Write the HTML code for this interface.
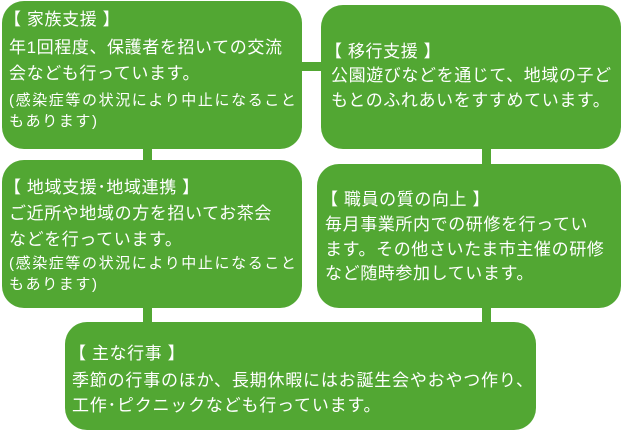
<!DOCTYPE html>
<html><head><meta charset="utf-8"><style>
body{margin:0;width:622px;height:434px;background:#fff;position:relative;overflow:hidden;font-family:"Liberation Sans","Noto Sans CJK JP",sans-serif;color:#fff}
.b{position:absolute;background:#52a733;border-radius:22px}
.l{position:absolute;background:#52a733}
.t{position:absolute;white-space:nowrap;font-size:17px;letter-spacing:0.6px;line-height:20px}
.s{font-size:15px;letter-spacing:1.6px}
.w{letter-spacing:0.8px}
</style></head><body>
<div class="l" style="left:296px;top:62px;width:30px;height:9px"></div>
<div class="l" style="left:143px;top:140px;width:9px;height:30px"></div>
<div class="l" style="left:482px;top:140px;width:9px;height:30px"></div>
<div class="l" style="left:143px;top:300px;width:9px;height:30px"></div>
<div class="l" style="left:482px;top:300px;width:9px;height:30px"></div>
<div class="b" style="left:2px;top:1px;width:300px;height:148px"></div>
<div class="b" style="left:321px;top:5px;width:300px;height:144px"></div>
<div class="b" style="left:2px;top:160px;width:300px;height:148px"></div>
<div class="b" style="left:317px;top:164px;width:304px;height:144px"></div>
<div class="b" style="left:65px;top:322px;width:471px;height:108px"></div>

<div class="t" style="left:4px;top:10px">【&nbsp;家族支援 】</div>
<div class="t" style="left:9px;top:38px">年1回程度、保護者を招いての交流</div>
<div class="t" style="left:9px;top:64px">会なども行っています。</div>
<div class="t s" style="left:9px;top:91px">(感染症等の状況により中止になること</div>
<div class="t s" style="left:9px;top:112px">もあります)</div>

<div class="t" style="left:325px;top:42px">【&nbsp;移行支援 】</div>
<div class="t" style="left:331px;top:66px">公園遊びなどを通じて、地域の子ど</div>
<div class="t" style="left:331px;top:91px">もとのふれあいをすすめています。</div>

<div class="t" style="left:4px;top:178px">【&nbsp;地域支援･地域連携 】</div>
<div class="t" style="left:9px;top:204px">ご近所や地域の方を招いてお茶会</div>
<div class="t" style="left:9px;top:230px">などを行っています。</div>
<div class="t s" style="left:9px;top:254px">(感染症等の状況により中止になること</div>
<div class="t s" style="left:9px;top:275px">もあります)</div>

<div class="t" style="left:321px;top:190px">【&nbsp;職員の質の向上 】</div>
<div class="t" style="left:325px;top:215px">毎月事業所内での研修を行ってい</div>
<div class="t" style="left:325px;top:240px">ます。その他さいたま市主催の研修</div>
<div class="t" style="left:325px;top:264px">など随時参加しています。</div>

<div class="t" style="left:69px;top:344px">【&nbsp;主な行事 】</div>
<div class="t w" style="left:72px;top:371px">季節の行事のほか、長期休暇にはお誕生会やおやつ作り、</div>
<div class="t w" style="left:72px;top:396px">工作･ピクニックなども行っています。</div>
</body></html>
